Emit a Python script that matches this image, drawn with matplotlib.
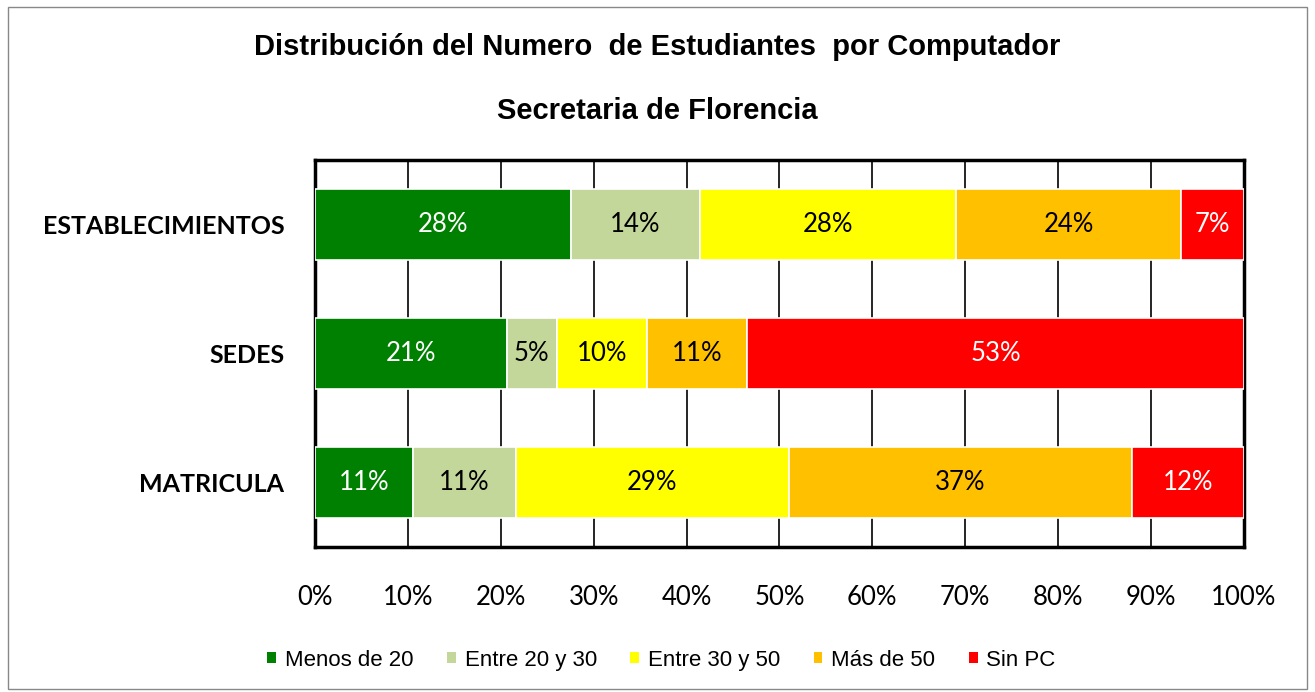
import matplotlib.pyplot as plt
from matplotlib.patches import Rectangle
import numpy as np

# Data (percent of each row)
categories = ['MATRICULA', 'SEDES', 'ESTABLECIMIENTOS']
series_names = ['Menos de 20', 'Entre 20 y 30', 'Entre 30 y 50', 'Más de 50', 'Sin PC']
menos_20 = [10.6, 20.6, 27.6]
entre_20_30 = [11.0, 5.4, 13.9]
entre_30_50 = [29.4, 9.7, 27.6]
mas_50 = [36.9, 10.7, 24.2]
sin_pc = [12.1, 53.4, 6.8]
x_ticks = [0, 10, 20, 30, 40, 50, 60, 70, 80, 90, 100]

colors = ['#008000', '#C4D79B', '#FFFF00', '#FFC000', '#FF0000']
label_colors = ['white', 'black', 'black', 'black', 'white']

series = np.array([menos_20, entre_20_30, entre_30_50, mas_50, sin_pc])
shares = series / series.sum(axis=0) * 100  # 100% stacked

fig = plt.figure(figsize=(13.15, 6.92), dpi=100)
ax = fig.add_axes([0.2395, 0.2095, 0.7065, 0.5593])

y = np.arange(len(categories))
left = np.zeros(len(categories))
for i, name in enumerate(series_names):
    bars = ax.barh(y, shares[i], left=left, height=0.55, color=colors[i],
                   edgecolor='white', linewidth=1.2, label=name, zorder=3)
    for j, b in enumerate(bars):
        ax.text(left[j] + shares[i][j] / 2, y[j], f'{series[i][j]:.0f}%',
                ha='center', va='center', color=label_colors[i],
                fontsize=18.5, family='Lato', zorder=4)
    left += shares[i]

ax.set_xlim(0, 100)
ax.set_ylim(-0.5, 2.5)
ax.set_xticks(x_ticks)
ax.set_xticklabels([f'{t}%' for t in x_ticks], fontsize=18.5, family='Lato')
ax.set_yticks(y)
ax.set_yticklabels(categories, fontsize=18, fontweight='bold', family='Lato')
ax.tick_params(axis='x', length=0, pad=27)
ax.tick_params(axis='y', length=0, pad=22)
ax.grid(axis='x', color='black', linewidth=1.2, zorder=0)
for s in ax.spines.values():
    s.set_linewidth(2.5)
    s.set_color('black')

fig.text(0.5, 0.932, 'Distribución del Numero  de Estudiantes  por Computador',
         ha='center', va='center', fontsize=21, fontweight='bold', family='Liberation Sans')
fig.text(0.5, 0.840, 'Secretaria de Florencia',
         ha='center', va='center', fontsize=21, fontweight='bold', family='Liberation Sans')

leg = fig.legend(loc='center', bbox_to_anchor=(0.503, 0.046), ncol=5, frameon=False,
                 handlelength=0.4, handleheight=0.4, handletextpad=0.4, columnspacing=1.5,
                 prop={'family': 'Liberation Sans', 'size': 16})
for h in leg.legend_handles:
    h.set_edgecolor('none')

# outer chart border
fig.patches.append(Rectangle((0.006, 0.004), 0.988, 0.986, transform=fig.transFigure,
                             fill=False, edgecolor='#888888', linewidth=1))

fig.savefig('out.png', dpi=100)
